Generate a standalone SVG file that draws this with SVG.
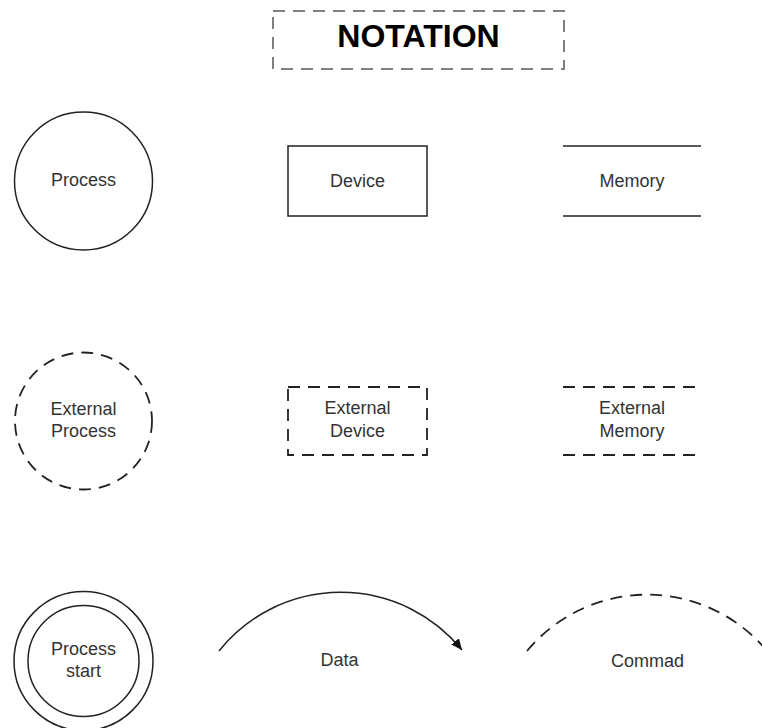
<svg xmlns="http://www.w3.org/2000/svg" width="762" height="728" viewBox="0 0 762 728">
<style>
.s{fill:none;stroke:#222;stroke-width:1.5}
.d{fill:none;stroke:#222;stroke-width:1.8;stroke-dasharray:12 8}
.t{font-family:"Liberation Sans",Arial,sans-serif;font-size:18px;fill:#333;text-anchor:middle}
.h{font-family:"Liberation Sans",Arial,sans-serif;font-size:32px;font-weight:bold;fill:#000;text-anchor:middle}
</style>
<defs>
<marker id="arr" markerWidth="12" markerHeight="10" refX="11" refY="5" orient="auto" markerUnits="userSpaceOnUse">
<path d="M0,0 L11,5 L0,10 Z" fill="#111"/>
</marker>
</defs>
<rect width="762" height="728" fill="#fff"/>
<g id="title">
<rect x="273" y="11" width="291" height="58" fill="none" stroke="#808080" stroke-width="2" stroke-dasharray="12 8"/>
<text class="h" x="418.5" y="47">NOTATION</text>
</g>
<g id="process">
<circle class="s" cx="83.5" cy="181" r="69"/>
<text class="t" x="83.5" y="186">Process</text>
</g>
<g id="device">
<rect class="s" x="288" y="146" width="139" height="70"/>
<text class="t" x="357.5" y="187">Device</text>
</g>
<g id="memory">
<line class="s" x1="563" y1="146" x2="701" y2="146"/>
<line class="s" x1="563" y1="216" x2="701" y2="216"/>
<text class="t" x="632" y="187">Memory</text>
</g>
<g id="external-process">
<circle class="d" cx="83.5" cy="421" r="68.5"/>
<text class="t" x="83.5" y="415">External</text>
<text class="t" x="83.5" y="437">Process</text>
</g>
<g id="external-device">
<rect class="d" x="288" y="387" width="139" height="68"/>
<text class="t" x="357.5" y="414">External</text>
<text class="t" x="357.5" y="437">Device</text>
</g>
<g id="external-memory">
<line class="d" x1="563" y1="387" x2="701" y2="387"/>
<line class="d" x1="563" y1="455" x2="701" y2="455"/>
<text class="t" x="632" y="414">External</text>
<text class="t" x="632" y="437">Memory</text>
</g>
<g id="process-start">
<circle class="s" cx="83.5" cy="661" r="69.5"/>
<circle class="s" cx="83.5" cy="661" r="55.5"/>
<text class="t" x="83.5" y="655">Process</text>
<text class="t" x="83.5" y="677">start</text>
</g>
<g id="connectors">
<path class="s" d="M219,651 A156,156 0 0 1 462,650" marker-end="url(#arr)"/>
<path class="d" d="M527,651 A156,156 0 0 1 767,651"/>
</g>
<g id="labels">
<text class="t" x="339.5" y="666">Data</text>
<text class="t" x="647.5" y="667">Commad</text>
</g>
</svg>
